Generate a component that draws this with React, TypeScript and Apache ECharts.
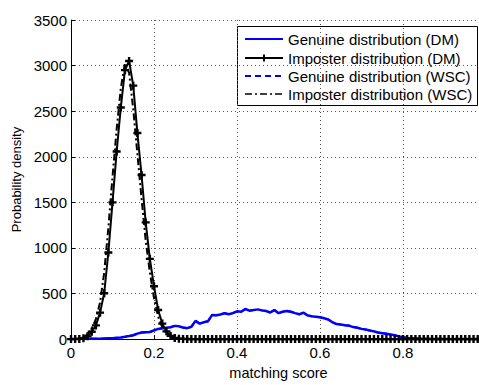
import React, { useEffect, useRef } from "react";
import * as echarts from "echarts";

const FONT = "'Liberation Sans', Arial, Helvetica, sans-serif";

const scores = [
  0.0, 0.01, 0.02, 0.03, 0.04, 0.05, 0.06, 0.07, 0.08, 0.09,
  0.1, 0.11, 0.12, 0.13, 0.14, 0.15, 0.16, 0.17, 0.18, 0.19,
  0.2, 0.21, 0.22, 0.23, 0.24, 0.25, 0.26, 0.27, 0.28, 0.29,
  0.3, 0.31, 0.32, 0.33, 0.34, 0.35, 0.36, 0.37, 0.38, 0.39,
  0.4, 0.41, 0.42, 0.43, 0.44, 0.45, 0.46, 0.47, 0.48, 0.49,
  0.5, 0.51, 0.52, 0.53, 0.54, 0.55, 0.56, 0.57, 0.58, 0.59,
  0.6, 0.61, 0.62, 0.63, 0.64, 0.65, 0.66, 0.67, 0.68, 0.69,
  0.7, 0.71, 0.72, 0.73, 0.74, 0.75, 0.76, 0.77, 0.78, 0.79,
  0.8, 0.81, 0.82, 0.83, 0.84, 0.85, 0.86, 0.87, 0.88, 0.89,
  0.9, 0.91, 0.92, 0.93, 0.94, 0.95, 0.96, 0.97, 0.98, 0.99,
];

const genuineDM = [
  0, 0, 1, 1, 2, 3, 3, 5, 6, 8,
  10, 14, 18, 25, 33, 42, 60, 72, 76, 78,
  95, 112, 118, 125, 130, 145, 140, 128, 120, 135,
  200, 170, 185, 195, 265, 262, 270, 285, 272, 285,
  305, 300, 330, 312, 318, 326, 315, 308, 292, 318,
  285, 300, 308, 300, 285, 272, 290, 260, 250, 245,
  240, 228, 215, 185, 165, 160, 152, 148, 132, 125,
  112, 105, 95, 85, 72, 65, 58, 50, 42, 30,
  20, 13, 8, 6, 4, 3, 3, 2, 2, 3,
  1, 2, 1, 1, 2, 1, 1, 2, 1, 1,
];

const imposterDM = [
  0, 0, 2, 8, 30, 80, 150, 290, 503, 950,
  1500, 2057, 2540, 2950, 3050, 2780, 2260, 1800, 1280, 880,
  580, 320, 170, 85, 35, 12, 5, 2, 1, 0,
  0, 0, 0, 0, 0, 0, 0, 0, 0, 0,
  0, 0, 0, 0, 0, 0, 0, 0, 0, 0,
  0, 0, 0, 0, 0, 0, 0, 0, 0, 0,
  0, 0, 0, 0, 0, 0, 0, 0, 0, 0,
  0, 0, 0, 0, 0, 0, 0, 0, 0, 0,
  0, 0, 0, 0, 0, 0, 0, 0, 0, 0,
  0, 0, 0, 0, 0, 0, 0, 0, 0, 0,
];

const genuineWSC = [
  0, 0, 1, 1, 2, 3, 4, 5, 6, 8,
  11, 14, 18, 25, 34, 43, 60, 72, 76, 79,
  95, 112, 118, 124, 131, 145, 140, 128, 121, 135,
  198, 171, 185, 196, 264, 262, 270, 284, 273, 285,
  304, 301, 328, 312, 318, 325, 315, 308, 293, 317,
  285, 300, 307, 300, 285, 273, 289, 260, 250, 245,
  240, 228, 214, 186, 165, 160, 152, 147, 132, 125,
  112, 104, 95, 85, 72, 65, 58, 50, 42, 30,
  20, 13, 8, 6, 4, 3, 3, 2, 2, 3,
  1, 2, 1, 1, 2, 1, 1, 2, 1, 1,
];

const imposterWSC = [
  0, 0, 5, 19, 55, 115, 220, 400, 730, 1220,
  1780, 2300, 2750, 3030, 2920, 2520, 2030, 1540, 1080, 730,
  450, 245, 128, 60, 24, 8, 3, 1, 0, 0,
  0, 0, 0, 0, 0, 0, 0, 0, 0, 0,
  0, 0, 0, 0, 0, 0, 0, 0, 0, 0,
  0, 0, 0, 0, 0, 0, 0, 0, 0, 0,
  0, 0, 0, 0, 0, 0, 0, 0, 0, 0,
  0, 0, 0, 0, 0, 0, 0, 0, 0, 0,
  0, 0, 0, 0, 0, 0, 0, 0, 0, 0,
  0, 0, 0, 0, 0, 0, 0, 0, 0, 0,
];

const seriesNames = [
  "Genuine distribution (DM)",
  "Imposter distribution (DM)",
  "Genuine distribution (WSC)",
  "Imposter distribution (WSC)",
];

const xTicks = { min: 0, max: 1, interval: 0.2 };
const yTicks = { min: 0, max: 3500, interval: 500 };

const PLUS = "path://M3.5,0H6.5V3.5H10V6.5H6.5V10H3.5V6.5H0V3.5H3.5Z";

const BLUE = "#0000ff";
const DASH = [6, 4];
const DASHDOT = [7, 3, 2, 3];

const pairs = (ys: number[]) => scores.map((x, i) => [x, ys[i]]);

function legendGraphic() {
  const bx = 237, by = 26, bw = 241, bh = 79;
  const rows = [39, 58, 76, 94];
  const x1 = 245, x2 = 283, tx = 288;
  const styles = [
    { stroke: BLUE, lineWidth: 2 },
    { stroke: "#000", lineWidth: 2 },
    { stroke: BLUE, lineWidth: 2, lineDash: DASH },
    { stroke: "#000", lineWidth: 1.6, lineDash: DASHDOT },
  ];
  const children: any[] = [
    {
      type: "rect",
      shape: { x: bx + 0.5, y: by + 0.5, width: bw - 1, height: bh },
      style: { fill: "#fff", stroke: "#000", lineWidth: 1 },
    },
  ];
  rows.forEach((y, i) => {
    children.push({
      type: "line",
      shape: { x1, y1: y, x2, y2: y },
      style: styles[i],
    });
    children.push({
      type: "text",
      x: tx,
      y,
      style: {
        text: seriesNames[i],
        fontSize: 15,
        fontFamily: FONT,
        fill: "#000",
        verticalAlign: "middle",
        align: "left",
      },
    });
  });
  const cx = (x1 + x2) / 2, cy = rows[1];
  children.push({ type: "line", shape: { x1: cx - 3.5, y1: cy, x2: cx + 3.5, y2: cy }, style: { stroke: "#000", lineWidth: 2 } });
  children.push({ type: "line", shape: { x1: cx, y1: cy - 3.5, x2: cx, y2: cy + 3.5 }, style: { stroke: "#000", lineWidth: 2 } });
  return [{ type: "group", z: 100, children }];
}

export default function App() {
  const ref = useRef<HTMLDivElement>(null);
  useEffect(() => {
    if (!ref.current) return;
    const chart = echarts.init(ref.current, undefined, { renderer: "svg" });
    const grid = { color: "#555", type: [1, 3] as any, width: 1 };
    chart.setOption({
      animation: false,
      backgroundColor: "#fff",
      grid: { left: 71, top: 20, right: 14, bottom: 38, containLabel: false },
      graphic: legendGraphic(),
      xAxis: {
        type: "value",
        min: xTicks.min,
        max: xTicks.max,
        interval: xTicks.interval,
        name: "matching score",
        nameLocation: "middle",
        nameGap: 22,
        nameTextStyle: { fontSize: 14.5, color: "#000", fontFamily: FONT },
        axisLine: { show: true, onZero: false, lineStyle: { color: "#000", width: 1 } },
        axisTick: { show: true, inside: true, length: 4, lineStyle: { color: "#000" } },
        axisLabel: {
          color: "#000",
          fontSize: 15,
          fontFamily: FONT,
          margin: 6,
          formatter: (v: number) => (v >= 0.999 ? "" : String(Math.round(v * 10) / 10)),
        },
        splitLine: { show: true, lineStyle: grid },
      },
      yAxis: {
        type: "value",
        min: yTicks.min,
        max: yTicks.max,
        interval: yTicks.interval,
        name: "Probability density",
        nameLocation: "middle",
        nameGap: 42,
        nameTextStyle: { fontSize: 13, color: "#000", fontFamily: FONT },
        axisLine: { show: true, lineStyle: { color: "#000", width: 1 } },
        axisTick: { show: true, inside: true, length: 4, lineStyle: { color: "#000" } },
        axisLabel: { color: "#000", fontSize: 15, fontFamily: FONT, margin: 4, formatter: (v: number) => String(v) },
        splitLine: { show: true, lineStyle: grid },
      },
      series: [
        {
          name: seriesNames[0],
          type: "line",
          data: pairs(genuineDM),
          symbol: "none",
          lineStyle: { color: BLUE, width: 2.5 },
          itemStyle: { color: BLUE },
          z: 2,
        },
        {
          name: seriesNames[1],
          type: "line",
          data: pairs(imposterDM),
          symbol: PLUS,
          symbolSize: 8,
          showAllSymbol: true,
          lineStyle: { color: "#000", width: 2 },
          itemStyle: { color: "#000", borderWidth: 0 },
          z: 3,
        },
        {
          name: seriesNames[2],
          type: "line",
          data: pairs(genuineWSC),
          symbol: "none",
          lineStyle: { color: BLUE, width: 2, type: DASH },
          itemStyle: { color: BLUE },
          z: 2,
        },
        {
          name: seriesNames[3],
          type: "line",
          data: pairs(imposterWSC),
          symbol: "none",
          lineStyle: { color: "#000", width: 2, type: DASHDOT },
          itemStyle: { color: "#000" },
          z: 3,
        },
      ],
    });
    return () => chart.dispose();
  }, []);
  return (
    <div style={{ position: "fixed", left: 0, top: 0, width: 479, height: 385, overflow: "hidden", background: "#fff" }}>
      <div ref={ref} style={{ width: 500, height: 385 }} />
    </div>
  );
}
